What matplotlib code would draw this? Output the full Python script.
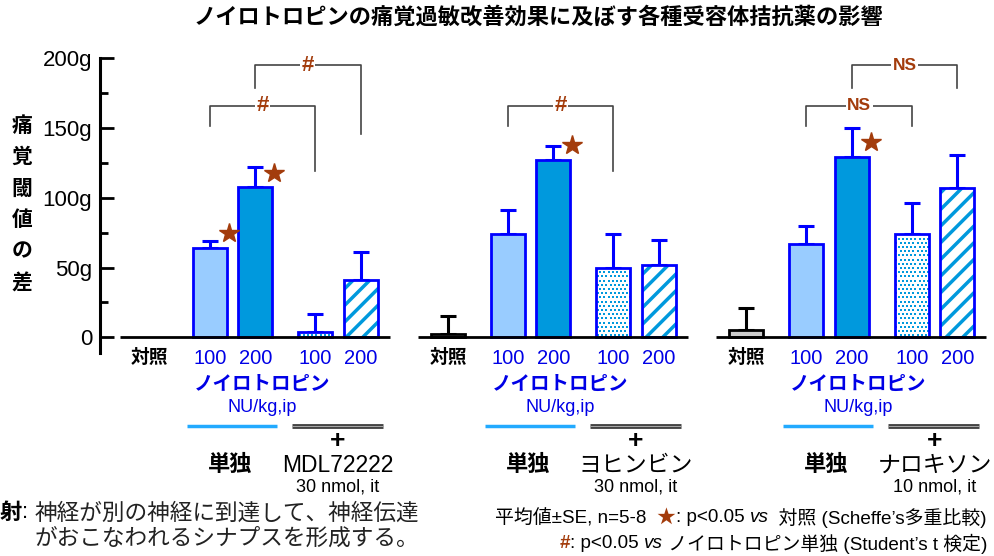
import matplotlib
matplotlib.use("Agg")
import matplotlib.pyplot as plt
import matplotlib.transforms as mtransforms
import numpy as np

plt.rcParams['font.family'] = ['Liberation Sans', 'Noto Sans CJK JP']
plt.rcParams['hatch.linewidth'] = 2.5

W, H = 995, 556

# Data
title = "ノイロトロピンの痛覚過敏改善効果に及ぼす各種受容体拮抗薬の影響"
antagonists = ["MDL72222", "ヨヒンビン", "ナロキソン"]
antagonist_doses = ["30 nmol, it", "30 nmol, it", "10 nmol, it"]
dose_labels = ["100", "200", "100", "200"]
ytick_vals = [0, 50, 100, 150, 200]
ytick_labels = ["0", "50g", "100g", "150g", "200g"]

control_mean = [None, 2.5, 5]
control_se = [None, 13, 16]
alone_mean = [[64, 108], [74, 127], [67, 129]]
alone_se = [[5, 14], [17, 10], [13, 21]]
combo_mean = [[4, 41], [50, 51.5], [74, 107]]
combo_se = [[13, 20], [24, 18], [22, 24]]

# stars: (bar slot, height)
star_marks = [[(1, 75), (2, 118)], [(2, 138)], [(2, 140)]]
# brackets: (left slot, right slot, top, left leg end, right leg end, label)
brackets = [
    [(1, 3, 166, 151.5, 119, "#"), (2, 4, 195, 178.5, 146, "#")],
    [(1, 3, 166, 151.5, 119, "#")],
    [(1, 3, 166, 151.5, 151.5, "NS"), (2, 4, 195, 178.5, 178.5, "NS")],
]

# Layout (pixel-like x units)
panel_x = [209.7, 508, 806.5]
slot = [-60, 0, 45.5, 105.5, 151]
bar_w = 34

BLUE = '#0000ff'
TXT_BLUE = '#0000e6'
LIGHT = '#99ccff'
MID = '#0099dd'
BROWN = '#a33c0c'


def fy(y):
    return 1 - y / H


fig = plt.figure(figsize=(W / 100, H / 100), dpi=100)
x_left = 100.5
y_bot_val, y_top_val = -11, 200
px_per_g = 1.395
ax_bottom = fy(337.3 + (-y_bot_val) * px_per_g)
ax_top = fy(337.3 - y_top_val * px_per_g)
ax = fig.add_axes([x_left / W, ax_bottom, (W - x_left) / W, ax_top - ax_bottom])
ax.set_xlim(x_left, W)
ax.set_ylim(y_bot_val, y_top_val)

for s in ['top', 'right', 'bottom']:
    ax.spines[s].set_visible(False)
ax.spines['left'].set_linewidth(2.2)
ax.set_xticks([])
ax.set_yticks(ytick_vals)
ax.set_yticklabels(ytick_labels, fontsize=16)
ax.set_yticks([25, 75, 125, 175], minor=True)
ax.tick_params(axis='y', which='major', direction='in', length=10, width=2, pad=6)
ax.tick_params(axis='y', which='minor', direction='in', length=6, width=2)

trans = mtransforms.blended_transform_factory(ax.transData, fig.transFigure)


def stipple(x, h, patch):
    # small square dots in staggered rows, clipped to the bar
    step_x, step_y = 4.2, 4.2 / px_per_g
    rows = np.arange(step_y / 2, h, step_y)
    for r, yy in enumerate(rows):
        shift = (r % 2) * step_x / 2
        xx = np.arange(x - bar_w / 2 + 1.5 + shift, x + bar_w / 2, step_x)
        sc = ax.scatter(xx, np.full_like(xx, yy), marker='s', s=4.5, color=MID,
                        linewidths=0, zorder=2.5)
        sc.set_clip_path(patch)


def draw_bar(x, h, se, kind):
    if h is None:
        return
    edge = 'k' if kind == 0 else BLUE
    if kind == 3:
        bars = ax.bar(x, h, bar_w, facecolor='white', edgecolor='none',
                      linewidth=0, zorder=2)
        stipple(x, h, bars[0])
        ax.bar(x, h, bar_w, facecolor='none', edgecolor=edge, linewidth=2, zorder=3)
    elif kind == 4:
        ax.bar(x, h, bar_w, facecolor='white', edgecolor=MID, hatch='//',
               linewidth=0, zorder=2)
        ax.bar(x, h, bar_w, facecolor='none', edgecolor=edge, linewidth=2, zorder=3)
    else:
        fc = {0: '#cccccc', 1: LIGHT, 2: MID}[kind]
        ax.bar(x, h, bar_w, facecolor=fc, edgecolor=edge, linewidth=2, zorder=3)
    ax.errorbar(x, h, yerr=[[0], [se]], fmt='none', ecolor=edge,
                elinewidth=2.2, capsize=6, capthick=2.2, zorder=1)


for i, p in enumerate(panel_x):
    xs = [p + s for s in slot]
    ax.hlines(0, p - 90, p + 180, color='k', lw=2, zorder=4)

    heights = [control_mean[i]] + alone_mean[i] + combo_mean[i]
    ses = [control_se[i]] + alone_se[i] + combo_se[i]
    for k in range(5):
        draw_bar(xs[k], heights[k], ses[k], k)

    for k, yv in star_marks[i]:
        ax.plot(xs[k] + bar_w / 2 + 2, yv, marker='*', ms=15, color=BROWN,
                mec=BROWN, clip_on=False, zorder=5)

    for a, b, top, la, lb, lab in brackets[i]:
        ax.plot([xs[a], xs[a], xs[b], xs[b]], [la, top, top, lb],
                color='#444444', lw=1.2, clip_on=False, zorder=4)
        ax.text((xs[a] + xs[b]) / 2, top, lab, ha='center', va='center',
                fontsize=16 if lab == "#" else 12.5, fontweight='bold',
                color=BROWN, zorder=6,
                bbox=dict(facecolor='white', edgecolor='none', pad=1.0))

    # labels under the axis
    ax.text(xs[0], fy(358), "対照", transform=trans, ha='center', va='center',
            fontsize=13.5, fontweight='bold')
    for k in range(4):
        ax.text(xs[k + 1], fy(359), dose_labels[k], transform=trans,
                ha='center', va='center', fontsize=14.5, color=TXT_BLUE)
    ax.text(p + 52, fy(385), "ノイロトロピン", transform=trans, ha='center',
            va='center', fontsize=14, fontweight='bold', color=TXT_BLUE)
    ax.text(p + 52, fy(408), "NU/kg,ip", transform=trans, ha='center',
            va='center', fontsize=13, color=TXT_BLUE)
    ax.plot([p - 23, p + 67], [fy(426)] * 2, transform=trans, color='#22aaff',
            lw=2.5, clip_on=False, solid_capstyle='butt')
    ax.plot([p + 82, p + 173], [fy(426)] * 2, transform=trans, color='#444444',
            lw=3.5, clip_on=False, solid_capstyle='butt')
    ax.plot([p + 82, p + 173], [fy(426)] * 2, transform=trans, color='#aaaaaa',
            lw=0.7, clip_on=False, solid_capstyle='butt')
    ax.text(p + 128, fy(441), "+", transform=trans, ha='center', va='center',
            fontsize=19, fontweight='bold')
    ax.text(p + 20, fy(465), "単独", transform=trans, ha='center', va='center',
            fontsize=16, fontweight='bold')
    ax.text(p + 128, fy(465), antagonists[i], transform=trans, ha='center',
            va='center', fontsize=16.5)
    ax.text(p + 128, fy(487), antagonist_doses[i], transform=trans, ha='center',
            va='center', fontsize=13)

# title and y label
fig.text(538 / W, fy(18), title, ha='center', va='center', fontsize=16,
         fontweight='bold')
for j, ch in enumerate("痛覚閾値の差"):
    fig.text(22 / W, fy(126 + 31.5 * j), ch, ha='center', va='center',
             fontsize=15, fontweight='bold')

# footnote on the left
fig.text(0, fy(513), "射", ha='left', va='center', fontsize=16, fontweight='bold')
fig.text(22 / W, fy(513), ":", ha='left', va='center', fontsize=16)
fig.text(35 / W, fy(513), "神経が別の神経に到達して、神経伝達", ha='left',
         va='center', fontsize=16.3, color='#222222')
fig.text(35 / W, fy(538), "がおこなわれるシナプスを形成する。", ha='left',
         va='center', fontsize=16.3, color='#222222')

# footnote on the right (mixed styles, right aligned)
renderer = fig.canvas.get_renderer()


def rich_line(segments, x_right, y, size=13.6):
    x = x_right
    for txt, style in reversed(segments):
        t = fig.text(x / W, fy(y), txt, ha='right', va='center', fontsize=size, **style)
        x -= t.get_window_extent(renderer).width


rich_line([("平均値±SE, n=5-8  ", {}), ("★", {'color': BROWN}),
           (": p<0.05 ", {}), ("vs", {'style': 'italic'}),
           ("  対照 (Scheffe’s多重比較)", {})], 987, 518)
rich_line([("#", {'color': BROWN, 'fontweight': 'bold'}), (": p<0.05 ", {}),
           ("vs", {'style': 'italic'}),
           (" ノイロトロピン単独 (Student’s t 検定)", {})], 987, 544)

fig.savefig("out.png", dpi=100)
